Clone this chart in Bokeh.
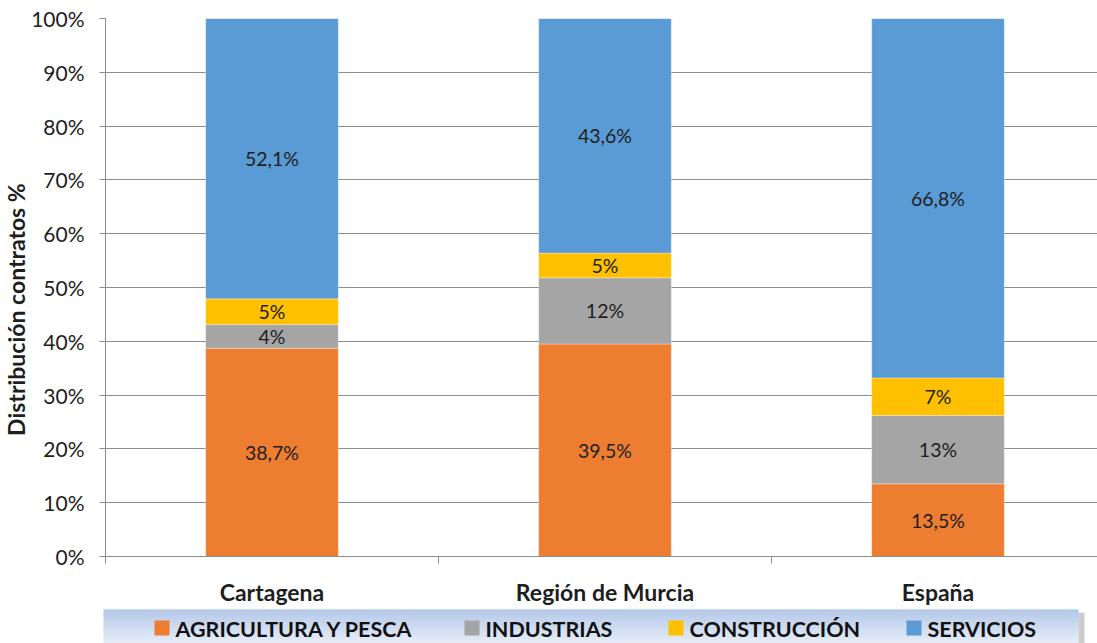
import math
from bokeh.plotting import figure
from bokeh.models import (ColumnDataSource, Range1d, FixedTicker, PrintfTickFormatter)
from bokeh.layouts import column, row
from bokeh.embed import file_html
from bokeh.resources import INLINE
from bokeh.core.properties import value

# ---------------- data ----------------
categories = ["Cartagena", "Región de Murcia", "España"]
series = ["AGRICULTURA Y PESCA", "INDUSTRIAS", "CONSTRUCCIÓN", "SERVICIOS"]
agricultura = [38.7, 39.5, 13.5]
industrias = [4.4, 12.3, 12.7]
construccion = [4.8, 4.6, 7.0]
servicios = [52.1, 43.6, 66.8]
y_ticks = [0, 10, 20, 30, 40, 50, 60, 70, 80, 90, 100]
colors = ["#ED7D31", "#A5A5A5", "#FFC000", "#5B9BD5"]
decimals = [1, 0, 0, 1]
y_title = "Distribución contratos %"

FONT = "Lato"
TXT = "#1e1e1e"
GRID = "#8c8c8c"

xpos = [i + 0.5 for i in range(len(categories))]
keys = ["agr", "ind", "con", "ser"]
values_list = [agricultura, industrias, construccion, servicios]
data = {"x": xpos}
for k, v in zip(keys, values_list):
    data[k] = v
source = ColumnDataSource(data)

TW = 28  # width of the y-title strip
p = figure(width=1097 - TW, height=608, output_backend="svg", toolbar_location=None,
           x_range=Range1d(0, 995 / 334), y_range=Range1d(0, 100),
           min_border_left=102 - TW, min_border_right=0, min_border_top=18,
           min_border_bottom=48)
p.outline_line_color = None
p.background_fill_color = "white"
p.border_fill_color = "white"

p.vbar_stack(keys, x="x", width=133 / 334, color=colors, source=source,
             line_color="white", line_width=0.5, line_alpha=0.6)

# data labels
lx, ly, lt = [], [], []
for i in range(len(categories)):
    base = 0.0
    for s, v in enumerate(values_list):
        val = v[i]
        lx.append(xpos[i])
        ly.append(base + val / 2)
        if decimals[s] == 1:
            lt.append(("%.1f%%" % val).replace(".", ","))
        else:
            lt.append("%d%%" % round(val))
        base += val
p.text(x=lx, y=ly, text=lt, text_align="center", text_baseline="middle",
       text_font=value(FONT), text_font_size="19.5px", text_color=TXT)

# y axis
p.yaxis.ticker = FixedTicker(ticks=y_ticks)
p.yaxis.formatter = PrintfTickFormatter(format="%d%%")
p.yaxis.major_label_text_font = FONT
p.yaxis.major_label_text_font_size = "21px"
p.yaxis.major_label_text_color = TXT
p.yaxis.major_tick_out = 6
p.yaxis.major_tick_in = 0
p.yaxis.minor_tick_out = 0
p.yaxis.minor_tick_in = 0
p.yaxis.major_tick_line_color = GRID
p.yaxis.axis_line_color = GRID
p.yaxis.major_label_standoff = 15

# x axis
p.xaxis.ticker = FixedTicker(ticks=xpos, minor_ticks=list(range(len(categories) + 1)))
p.xaxis.major_label_overrides = {x: c for x, c in zip(xpos, categories)}
p.xaxis.major_label_text_font = FONT
p.xaxis.major_label_text_font_style = "bold"
p.xaxis.major_label_text_font_size = "23px"
p.xaxis.major_label_text_color = TXT
p.xaxis.major_tick_out = 0
p.xaxis.major_tick_in = 0
p.xaxis.minor_tick_out = 7
p.xaxis.minor_tick_in = 0
p.xaxis.minor_tick_line_color = GRID
p.xaxis.axis_line_color = GRID
p.xaxis.major_label_standoff = 14

p.xgrid.grid_line_color = None
p.ygrid.grid_line_color = GRID
p.ygrid.grid_line_width = 1

# ---------------- y title strip ----------------
tf = figure(width=TW, height=608, output_backend="svg", toolbar_location=None,
            x_range=Range1d(0, TW), y_range=Range1d(608, 0), min_border=0)
tf.outline_line_color = None
tf.axis.visible = False
tf.grid.visible = False
tf.border_fill_color = "white"
tf.background_fill_color = "white"
tf.text(x=[15.5], y=[329], text=[y_title], angle=math.pi / 2,
        text_align="center", text_baseline="middle", text_font=value(FONT),
        text_font_style="bold", text_font_size="23px", text_color=TXT)

# ---------------- legend strip ----------------
lg = figure(width=1097, height=35, output_backend="svg", toolbar_location=None,
            x_range=Range1d(102, 1097), y_range=Range1d(643, 608),
            min_border_left=102, min_border_right=0, min_border_top=0,
            min_border_bottom=0)
lg.outline_line_color = None
lg.axis.visible = False
lg.grid.visible = False
lg.border_fill_color = "white"
lg.background_fill_color = "white"

# shadow
lg.quad(left=[1078], right=[1084], top=[612], bottom=[643], color="#9a9a9a", alpha=0.5,
        line_color=None)
# gradient
top_c = (0x9c, 0xb6, 0xe0)
bot_c = (0xdd, 0xe7, 0xf6)
rows = 34
tops, bots, cols = [], [], []
for r in range(rows):
    t = r / (rows - 1)
    c = tuple(int(round(a + (b - a) * t)) for a, b in zip(top_c, bot_c))
    tops.append(609 + r)
    bots.append(609 + r + 1.05)
    cols.append("#%02x%02x%02x" % c)
lg.quad(left=103, right=1078, top=tops, bottom=bots, color=cols, line_color=None)

sq_x = [154, 464, 668, 906]
lg.quad(left=sq_x, right=[s + 15 for s in sq_x], top=[620] * 4, bottom=[635] * 4,
        color=colors, line_color=None)
lg.text(x=[s + 21 for s in sq_x], y=[628] * 4, text=series, text_align="left",
        text_baseline="middle", text_font=value(FONT), text_font_style="bold",
        text_font_size="21.5px", text_color="#111111")

layout = column(row(tf, p, spacing=0), lg, spacing=0)
open("out.html", "w").write(file_html(layout, INLINE))
